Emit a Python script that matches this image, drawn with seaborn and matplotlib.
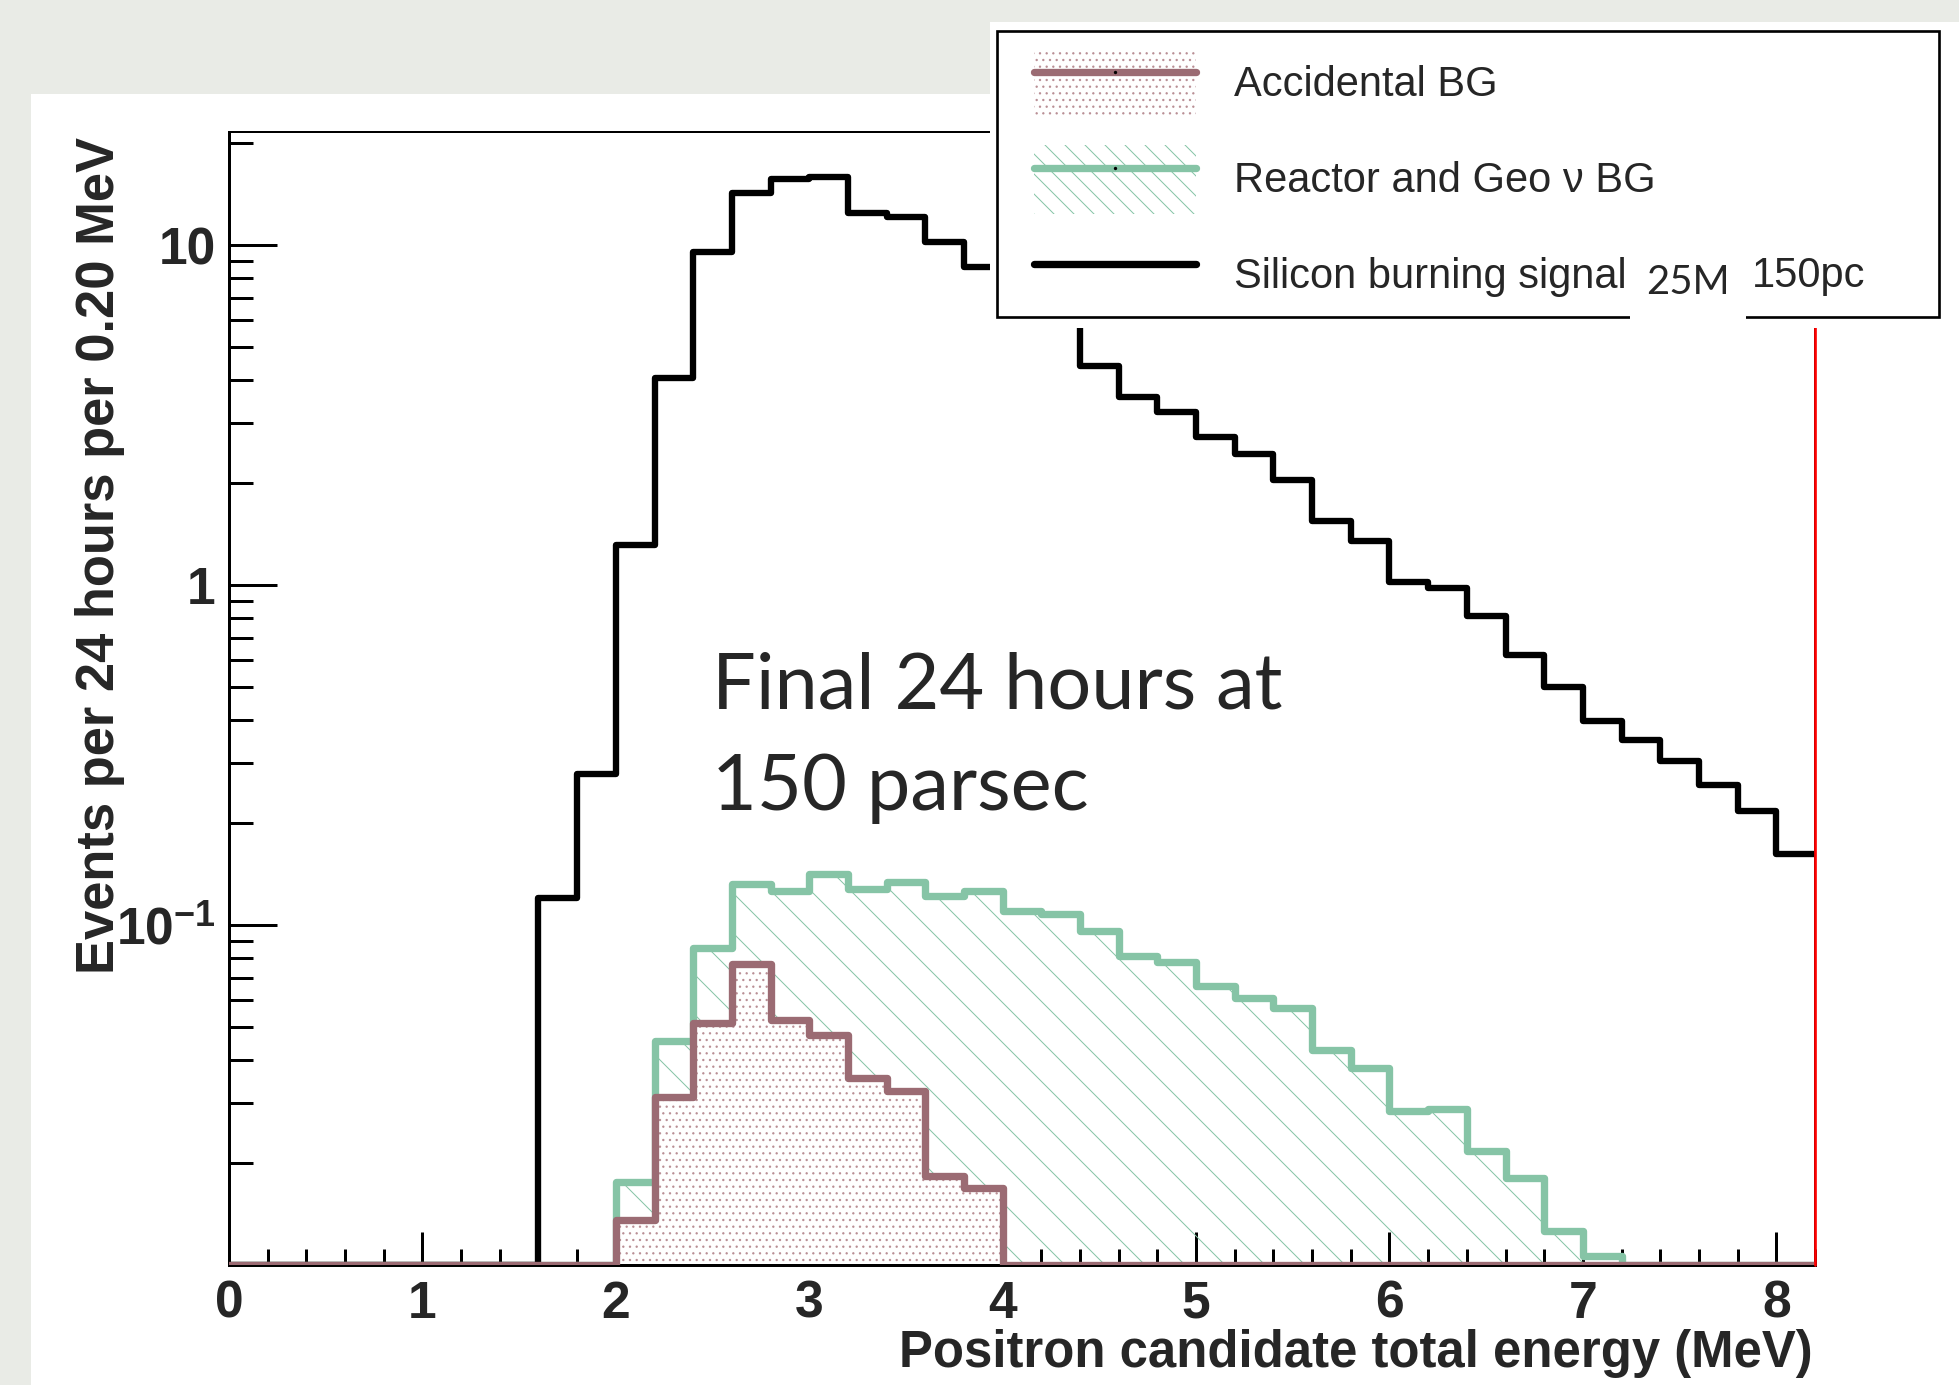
import numpy as np
import matplotlib
matplotlib.use("Agg")
import matplotlib.pyplot as plt
import seaborn as sns
from matplotlib.lines import Line2D
from matplotlib.patches import Patch, Rectangle
from matplotlib.ticker import MultipleLocator, LogLocator, NullFormatter

# 0.2 MeV bins, 0 - 8.2 MeV
bin_edges = np.round(np.arange(0, 8.2 + 1e-9, 0.2), 1)

# events per 24 hours per bin
signal = [0, 0, 0, 0, 0, 0, 0, 0,
          0.12, 0.278, 1.31, 4.05, 9.55, 14.2, 15.6, 15.85, 12.4, 12.1,
          10.2, 8.6, 7.5, 6.3, 4.42, 3.57, 3.23, 2.72, 2.43, 2.04, 1.54,
          1.345, 1.02, 0.98, 0.81, 0.622, 0.50, 0.398, 0.35, 0.303, 0.258,
          0.217, 0.162]
reactor_geo = [0, 0, 0, 0, 0, 0, 0, 0, 0, 0,
               0.0175, 0.0456, 0.0857, 0.132, 0.126, 0.141, 0.128, 0.134,
               0.122, 0.126, 0.110, 0.108, 0.096, 0.081, 0.078, 0.066,
               0.061, 0.057, 0.043, 0.038, 0.0283, 0.0288, 0.0217, 0.018,
               0.0126, 0.0106, 0, 0, 0, 0, 0]
accidental = [0, 0, 0, 0, 0, 0, 0, 0, 0, 0,
              0.0136, 0.0312, 0.0516, 0.0766, 0.0524, 0.0475, 0.0355,
              0.0325, 0.0183, 0.0168,
              0, 0, 0, 0, 0, 0, 0, 0, 0, 0, 0, 0, 0, 0, 0, 0, 0, 0, 0, 0, 0]

ytick_vals = [0.1, 1, 10]
ytick_labels = [r"$\mathbf{10^{-1}}$", "1", "10"]
xtick_vals = list(range(9))

y_min, y_max = 0.01, 21.5
x_min, x_max = 0, 8.2

green = "#86c4a6"
brown = "#9b6b73"
dot_col = "#b98f95"
bg_gray = "#e9ebe6"

sns.set_style("ticks")
plt.rcParams["font.family"] = ["Liberation Sans", "DejaVu Sans"]
plt.rcParams["mathtext.fontset"] = "custom"
plt.rcParams["mathtext.rm"] = "Liberation Sans"
plt.rcParams["mathtext.bf"] = "Liberation Sans:bold"
plt.rcParams["hatch.linewidth"] = 0.6

DPI = 120
fig = plt.figure(figsize=(1960 / DPI, 1385 / DPI), dpi=DPI)
fig.patch.set_facecolor(bg_gray)
fig.patches.append(Rectangle((31 / 1960, 0), 1, 1 - 94 / 1385, transform=fig.transFigure,
                             facecolor="white", edgecolor="none", zorder=-10))

ax = fig.add_axes([229 / 1960, 120 / 1385, 1586 / 1960, 1133 / 1385])
ax.set_facecolor("white")


def step_y(vals):
    v = np.clip(np.asarray(vals, dtype=float), y_min, None)
    return np.append(v, v[-1])


# reactor + geo (hatched)
ry = step_y(reactor_geo)
ax.fill_between(bin_edges, y_min, ry, step="post", facecolor="none", edgecolor=green,
                hatch="\\", linewidth=0, zorder=1.5)
sns.lineplot(x=bin_edges, y=ry, drawstyle="steps-post", color=green, linewidth=4.4,
             estimator=None, sort=False, ax=ax, zorder=2)

# signal
sy = step_y(signal)
sns.lineplot(x=bin_edges, y=sy, drawstyle="steps-post", color="black", linewidth=3.8,
             estimator=None, sort=False, ax=ax, zorder=2.2)

# accidental (dotted)
ay = step_y(accidental)
ax.fill_between(bin_edges, y_min, ay, step="post", facecolor="white", edgecolor=dot_col,
                hatch="...", linewidth=0, zorder=2.5)
sns.lineplot(x=bin_edges, y=ay, drawstyle="steps-post", color=brown, linewidth=4.4,
             estimator=None, sort=False, ax=ax, zorder=3)

ax.axvline(x_max, color="red", linewidth=1.6, zorder=4, clip_on=False)

ax.set_yscale("log")
ax.set_xlim(x_min, x_max)
ax.set_ylim(y_min, y_max)
ax.set_xlabel("")
ax.set_ylabel("")

ax.xaxis.set_major_locator(MultipleLocator(1))
ax.xaxis.set_minor_locator(MultipleLocator(0.2))
ax.set_xticks(xtick_vals)
ax.set_xticklabels([str(v) for v in xtick_vals])
ax.set_yticks(ytick_vals)
ax.set_yticklabels(ytick_labels)
ax.yaxis.set_minor_locator(LogLocator(base=10, subs=range(2, 10)))
ax.yaxis.set_minor_formatter(NullFormatter())

ax.tick_params(axis="both", which="both", direction="in", top=False, right=False,
               width=1.8, color="black")
ax.tick_params(axis="y", which="major", length=28.8, pad=8, labelsize=31)
ax.tick_params(axis="y", which="minor", length=14.4)
ax.tick_params(axis="x", which="major", length=20, pad=9, labelsize=31)
ax.tick_params(axis="x", which="minor", length=9.6)
for lab in ax.get_xticklabels() + ax.get_yticklabels():
    lab.set_fontweight("bold")

for side, lw in [("left", 1.8), ("bottom", 1.8), ("top", 1.2), ("right", 1.2)]:
    ax.spines[side].set_visible(True)
    ax.spines[side].set_linewidth(lw)
    ax.spines[side].set_color("black")

fig.text(100 / 1960, 1 - 137 / 1385, "Events per 24 hours per 0.20 MeV", rotation=90,
         ha="center", va="top", fontsize=31.5, fontweight="bold")
fig.text(1813 / 1960, 1 - 1354 / 1385, "Positron candidate total energy (MeV)",
         ha="right", va="center", fontsize=30.5, fontweight="bold")

# annotation
fig.text(712 / 1960, 1 - 709 / 1385, "Final 24 hours at", ha="left", va="baseline",
         fontsize=46.5, family=["Lato", "DejaVu Sans"])
fig.text(712 / 1960, 1 - 810 / 1385, "150 parsec", ha="left", va="baseline",
         fontsize=46.5, family=["Lato", "DejaVu Sans"])

# legend box (white mask + frame)
fig.patches.append(Rectangle((990 / 1960, 1 - 328 / 1385), 970 / 1960, 306 / 1385,
                             transform=fig.transFigure, facecolor="white",
                             edgecolor="none", zorder=1))
fig.patches.append(Rectangle((997 / 1960, 1 - 317 / 1385), 942 / 1960, 286 / 1385,
                             transform=fig.transFigure, facecolor="none",
                             edgecolor="black", linewidth=1.6, zorder=2))
# white patch behind "25M" that breaks the legend border
fig.patches.append(Rectangle((1630 / 1960, 1 - 322 / 1385), 116 / 1960, 60 / 1385,
                             transform=fig.transFigure, facecolor="white",
                             edgecolor="none", zorder=3))

h_acc = (Patch(facecolor="white", edgecolor=dot_col, hatch="...", linewidth=0),
         Line2D([], [], color=brown, linewidth=4.4, marker=".", markersize=2,
                markerfacecolor="black", markeredgecolor="black"))
h_geo = (Patch(facecolor="white", edgecolor=green, hatch="\\\\", linewidth=0),
         Line2D([], [], color=green, linewidth=4.4, marker=".", markersize=2,
                markerfacecolor="black", markeredgecolor="black"))
h_sig = Line2D([], [], color="black", linewidth=4.4)
fig.legend([h_acc, h_geo, h_sig],
           ["Accidental BG", "Reactor and Geo \u03bd BG", "Silicon burning signal"],
           loc="upper left", bbox_to_anchor=(1034 / 1960, 1 - 48.5 / 1385),
           frameon=False, borderpad=0, borderaxespad=0, fontsize=25,
           handlelength=3.89, handleheight=2.17, handletextpad=0.91, labelspacing=0.65)

fig.text(1688 / 1960, 1 - 283 / 1385, "25M", ha="center", va="center", fontsize=24,
         family=["Lato", "DejaVu Sans"], zorder=6)
fig.text(1752 / 1960, 1 - 287 / 1385, "150pc", ha="left", va="baseline", fontsize=25,
         zorder=6)

fig.savefig("out.png", dpi=DPI, facecolor=fig.get_facecolor())
